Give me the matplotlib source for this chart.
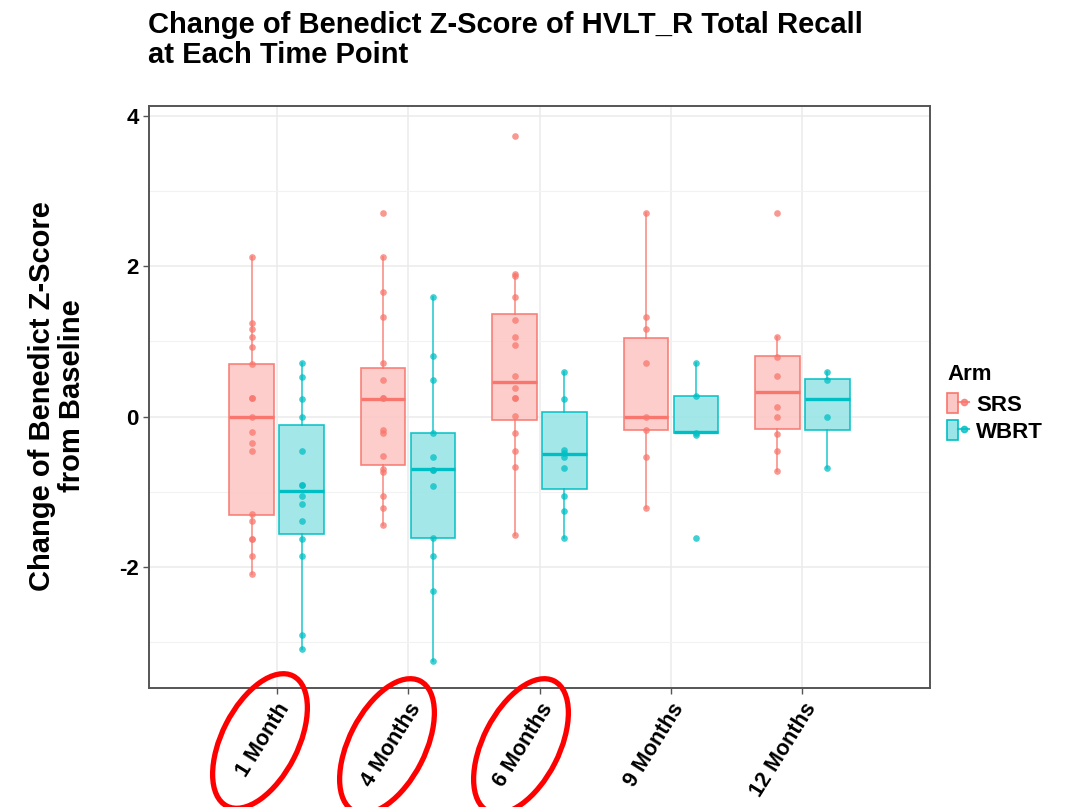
import matplotlib
matplotlib.use("Agg")
import matplotlib.pyplot as plt
from matplotlib.patches import Ellipse, Patch
from matplotlib.lines import Line2D
from matplotlib.legend_handler import HandlerTuple
from matplotlib.transforms import IdentityTransform

plt.rcParams['font.family'] = ['Liberation Sans', 'DejaVu Sans']

time_points = ['1 Month', '4 Months', '6 Months', '9 Months', '12 Months']
arms = ['SRS', 'WBRT']

# box stats: [whisker low, q1, median, q3, whisker high]
srs_box = [
    [-2.10, -1.31, 0.00, 0.70, 2.12],
    [-1.44, -0.65, 0.24, 0.65, 2.12],
    [-1.58, -0.05, 0.46, 1.36, 1.90],
    [-1.21, -0.18, 0.00, 1.05, 2.71],
    [-0.73, -0.17, 0.33, 0.80, 1.06],
]
wbrt_box = [
    [-3.09, -1.56, -0.99, -0.11, 0.71],
    [-3.25, -1.62, -0.70, -0.22, 1.59],
    [-1.62, -0.96, -0.50, 0.06, 0.59],
    [-0.22, -0.22, -0.21, 0.27, 0.71],
    [-0.69, -0.18, 0.24, 0.50, 0.59],
]

# individual patients
srs_points = [
    [2.12, 1.25, 1.17, 1.06, 0.92, 0.70, 0.25, 0.25, 0.00, -0.20, -0.35, -0.46,
     -1.30, -1.39, -1.63, -1.63, -1.86, -2.10],
    [2.71, 2.12, 1.66, 1.33, 0.71, 0.48, 0.25, 0.25, -0.18, -0.22, -0.52, -0.70,
     -0.74, -1.05, -1.21, -1.44],
    [3.73, 1.90, 1.87, 1.59, 1.28, 1.06, 0.95, 0.54, 0.38, 0.25, 0.25, 0.01,
     -0.22, -0.46, -0.67, -1.58],
    [2.71, 1.33, 1.17, 0.71, 0.00, -0.18, -0.54, -1.21],
    [2.71, 1.06, 0.79, 0.54, 0.13, 0.00, -0.23, -0.46, -0.73],
]
wbrt_points = [
    [0.71, 0.52, 0.24, 0.00, -0.46, -0.91, -0.91, -1.05, -1.16, -1.39, -1.63,
     -1.86, -2.90, -3.09],
    [1.59, 0.80, 0.48, -0.22, -0.54, -0.71, -0.71, -0.92, -1.62, -1.85, -2.32, -3.25],
    [0.59, 0.24, -0.45, -0.49, -0.54, -0.68, -1.05, -1.26, -1.62],
    [0.71, 0.27, -0.22, -0.24, -1.62],
    [0.59, 0.48, 0.00, -0.69],
]

colors = {'SRS': '#F8766D', 'WBRT': '#00BFC4'}
fills = {'SRS': '#FCC8C5', 'WBRT': '#99E5E7'}

W, H = 1081, 807
fig = plt.figure(figsize=(W / 100, H / 100), dpi=100)
ax = fig.add_axes([149 / W, 1 - 688 / H, (930 - 149) / W, (688 - 106) / H])

dodge = 0.19
width = 0.34
for arm, boxes, pts, off in [('SRS', srs_box, srs_points, -dodge),
                             ('WBRT', wbrt_box, wbrt_points, dodge)]:
    stats = []
    for b in boxes:
        stats.append(dict(whislo=b[0], q1=b[1], med=b[2], q3=b[3], whishi=b[4], fliers=[]))
    pos = [i + 1 + off for i in range(len(boxes))]
    c = colors[arm]
    ax.bxp(stats, positions=pos, widths=width, patch_artist=True, showcaps=False,
           showfliers=False,
           boxprops=dict(facecolor=fills[arm], edgecolor=c, linewidth=1.2, alpha=0.9),
           whiskerprops=dict(color=c, linewidth=1.3, alpha=0.75),
           medianprops=dict(color=c, linewidth=2.4),
           zorder=2)
    for p, vals in zip(pos, pts):
        ax.plot([p] * len(vals), vals, 'o', color=c, markersize=4.8, alpha=0.75,
                markeredgewidth=0, zorder=3)

ax.set_xlim(0.03, 5.97)
ax.set_ylim(-3.61, 4.13)
ax.set_xticks(range(1, 6))
ax.set_xticklabels(time_points, rotation=58, ha='right', rotation_mode='anchor',
                   fontsize=15.5, fontweight='bold')
ax.set_yticks([-2, 0, 2, 4])
ax.set_yticks([-3, -1, 1, 3], minor=True)
ax.set_yticklabels(['-2', '0', '2', '4'], fontsize=16, fontweight='bold')
ax.tick_params(axis='both', which='major', length=4, color='#555555', width=1)
ax.tick_params(axis='y', which='minor', length=0)
ax.tick_params(axis='x', pad=4)
ax.grid(True, which='major', color='#EBEBEB', linewidth=1.1, zorder=0)
ax.grid(True, which='minor', axis='y', color='#F2F2F2', linewidth=0.8, zorder=0)
ax.set_axisbelow(True)
for s in ax.spines.values():
    s.set_color('#555555')
    s.set_linewidth(1.4)

fig.text(148 / W, 1 - 11 / H, 'Change of Benedict Z-Score of HVLT_R Total Recall\nat Each Time Point',
         ha='left', va='top', fontsize=21, fontweight='bold', linespacing=1.1)
fig.text(57 / W, 1 - 396 / H, 'Change of Benedict Z-Score\nfrom Baseline', rotation=90,
         ha='center', va='center', multialignment='center', fontsize=21,
         fontweight='bold', linespacing=1.1)

handles = []
for arm in arms:
    handles.append((Patch(facecolor=fills[arm], edgecolor=colors[arm], linewidth=1.2),
                    Line2D([], [], color=colors[arm], marker='o', markersize=4.5,
                           linewidth=1.5, alpha=0.8)))
leg = fig.legend(handles, arms, title='Arm', loc='upper left',
                 bbox_to_anchor=(936 / W, 1 - 353 / H), frameon=False, borderpad=0,
                 handler_map={tuple: HandlerTuple(ndivide=None)},
                 prop=dict(size=16, weight='bold'), handlelength=1.0,
                 handleheight=1.0, labelspacing=0.2, handletextpad=0.3)
leg.get_title().set_fontsize(16)
leg.get_title().set_fontweight('bold')
leg._legend_box.align = 'left'
leg._legend_box.sep = 6

# red circles marking the first three time points
for cx, cy in [(260, 741), (387, 746), (521, 746)]:
    fig.add_artist(Ellipse((cx, H - cy), 146, 76, angle=63, fill=False,
                           edgecolor='#FF0000', linewidth=3.8,
                           transform=IdentityTransform()))

fig.savefig('out.png', dpi=100)
